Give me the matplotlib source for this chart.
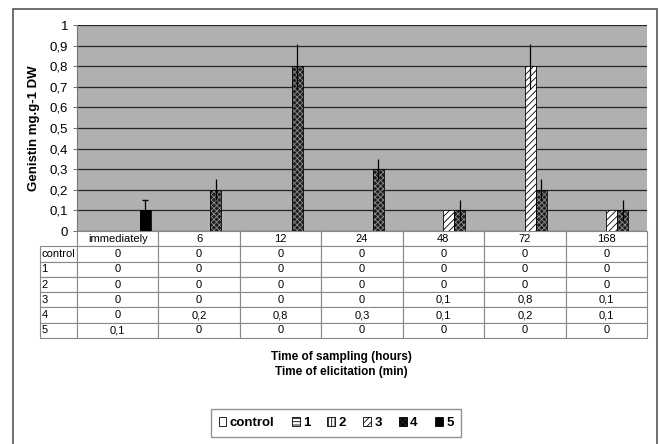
import matplotlib
matplotlib.use('Agg')
import matplotlib.pyplot as plt
from matplotlib.table import Table
from matplotlib.patches import Rectangle, Patch
from matplotlib.ticker import FuncFormatter
import numpy as np

plt.rcParams['font.family'] = ['Liberation Sans', 'DejaVu Sans']
plt.rcParams['hatch.linewidth'] = 0.6

# data
categories = ['immediately', '6', '12', '24', '48', '72', '168']
series_names = ['control', '1', '2', '3', '4', '5']
control = [0, 0, 0, 0, 0, 0, 0]
s1 = [0, 0, 0, 0, 0, 0, 0]
s2 = [0, 0, 0, 0, 0, 0, 0]
s3 = [0, 0, 0, 0, 0.1, 0.8, 0.1]
s4 = [0, 0.2, 0.8, 0.3, 0.1, 0.2, 0.1]
s5 = [0.1, 0, 0, 0, 0, 0, 0]
err3 = [0, 0, 0, 0, 0, 0.11, 0]
err4 = [0, 0.05, 0.11, 0.05, 0.05, 0.05, 0.05]
err5 = [0.05, 0, 0, 0, 0, 0, 0]

values = [control, s1, s2, s3, s4, s5]
errors = [None, None, None, err3, err4, err5]
faces = ['white', 'white', 'white', 'white', '#1e1e1e', 'black']
hatchcols = ['black', 'black', 'black', 'black', '#8c8c8c', 'black']
hatches = [None, '-----', '|||||', '/////', 'xxxxxx', None]

fig = plt.figure(figsize=(6.59, 4.44), dpi=100)
W, H = 659, 444
ax = fig.add_axes([77 / W, 1 - 231 / H, 570 / W, 206 / H])
ax.set_facecolor('#b0b0b0')

x = np.arange(len(categories))
bw = 0.135
for i, vals in enumerate(values):
    vals = np.array(vals)
    pos = x + (i - 2.5) * bw
    m = vals > 0  # excel draws nothing for zero values
    if not m.any():
        continue
    ax.bar(pos[m], vals[m], bw, color=faces[i], edgecolor=hatchcols[i],
           hatch=hatches[i], linewidth=0, zorder=3)
    ax.bar(pos[m], vals[m], bw, fill=False, edgecolor='black', linewidth=0.6, zorder=4)
    if errors[i] is not None:
        e = np.array(errors[i])
        k = e > 0
        ax.errorbar(pos[k], vals[k], yerr=e[k], fmt='none', ecolor='black',
                    elinewidth=0.9, capsize=2 if i == 5 else 0, zorder=5)

ax.set_xlim(-0.5, len(categories) - 0.5)
ax.set_ylim(0, 1)
ax.set_yticks(np.arange(0, 1.01, 0.1))
ax.yaxis.set_major_formatter(FuncFormatter(
    lambda v, p: ('%g' % round(v, 1)).replace('.', ',')))
ax.set_xticks([])
ax.tick_params(axis='y', labelsize=9.5, length=3, width=0.6, color='#555')
ax.grid(axis='y', color='#262626', linewidth=0.9, zorder=1)
ax.set_axisbelow(True)
for s in ['top', 'right', 'bottom']:
    ax.spines[s].set_visible(False)
ax.spines['left'].set_color('#777')
ax.set_ylabel('Genistin mg.g-1 DW', fontsize=9.5, fontweight='bold', labelpad=7)

# data table under the axis
cw = 81.4
lw = 37
tab = Table(ax, bbox=[-lw / 570, -107 / 206, 1 + lw / 570, 107 / 206])
for c, name in enumerate(categories):
    tab.add_cell(0, c + 1, cw, 1, text=name, loc='center', facecolor='white',
                 edgecolor='#888')
for r, vals in enumerate(values):
    tab.add_cell(r + 1, 0, lw, 1, text=series_names[r], loc='left',
                 facecolor='white', edgecolor='#888')
    for c, v in enumerate(vals):
        tab.add_cell(r + 1, c + 1, cw, 1, text=('%g' % v).replace('.', ','),
                     loc='center', facecolor='white', edgecolor='#888')
tab.auto_set_font_size(False)
tab.set_fontsize(8)
for cell in tab.get_celld().values():
    cell.set_linewidth(0.8)
    cell.PAD = 0.04
ax.add_table(tab)

fig.text(341 / W, 1 - 357 / H, 'Time of sampling (hours)', ha='center', va='center',
         fontsize=8.5, fontweight='bold')
fig.text(341 / W, 1 - 372 / H, 'Time of elicitation (min)', ha='center', va='center',
         fontsize=8.5, fontweight='bold')

handles = [Patch(facecolor=faces[i], edgecolor=hatchcols[i], hatch=hatches[i],
                 linewidth=0.6) for i in range(len(series_names))]
leg = fig.legend(handles, series_names, loc='center', ncol=6,
                 bbox_to_anchor=(336 / W, 1 - 423 / H), frameon=True, fancybox=False,
                 handlelength=0.6, handleheight=0.6, handletextpad=0.25,
                 columnspacing=1.3, borderpad=0.6,
                 prop={'weight': 'bold', 'size': 9.5})
leg.get_frame().set_edgecolor('#777')
leg.get_frame().set_linewidth(1.0)
for h in leg.legend_handles:
    h.set_edgecolor('black')

fig.patches.append(Rectangle((13 / W, -0.05), 644 / W, 1.05 - 9 / H,
                             transform=fig.transFigure, fill=False,
                             edgecolor='#555', linewidth=1.2))

fig.savefig('out.png', dpi=100)
